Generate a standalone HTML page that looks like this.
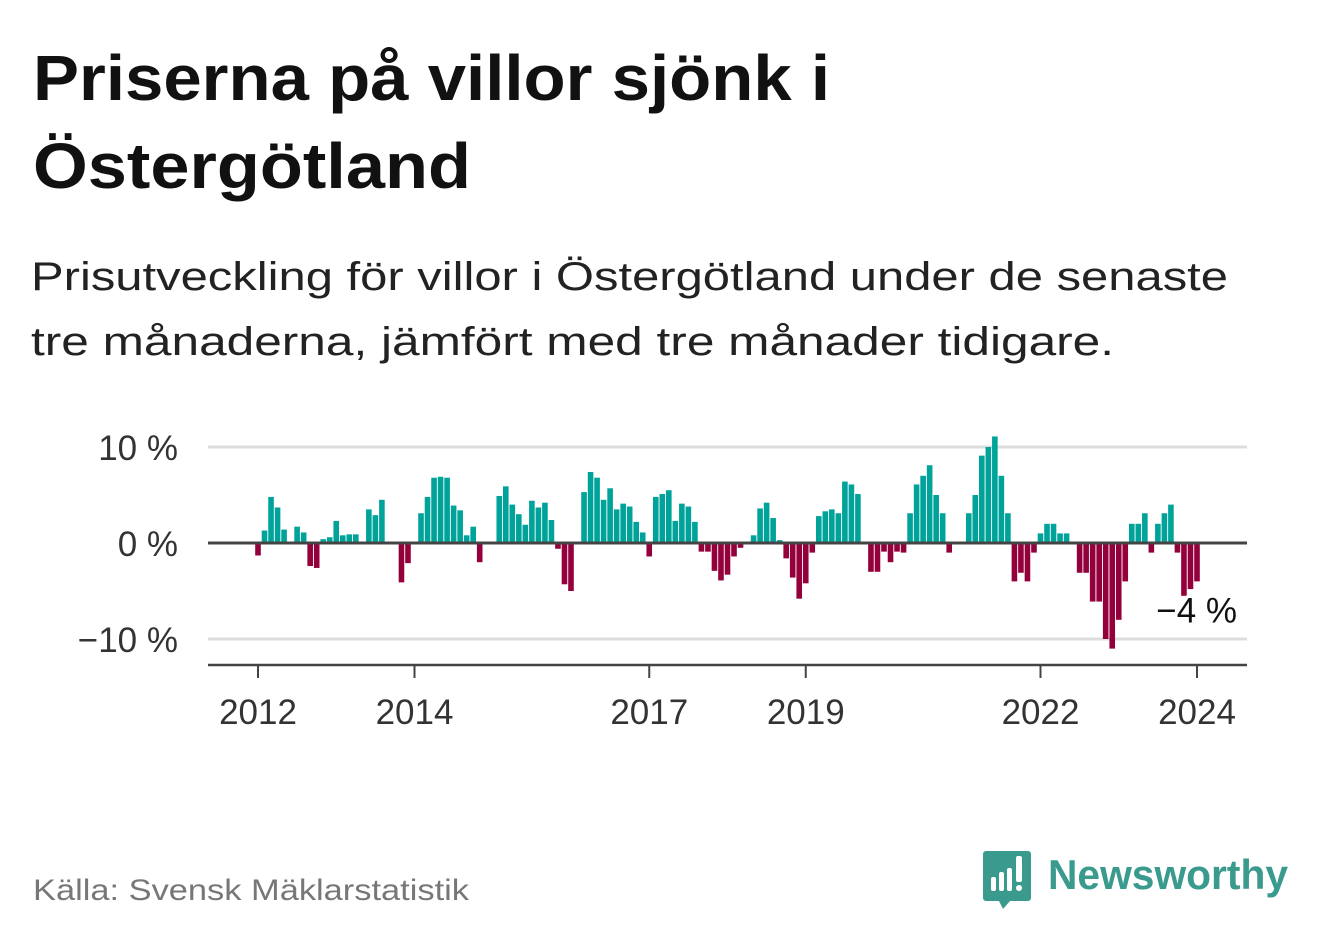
<!DOCTYPE html>
<html><head><meta charset="utf-8">
<style>
html,body{margin:0;padding:0;background:#fff;}
svg{display:block;font-family:"Liberation Sans",sans-serif;}
</style></head>
<body>
<svg width="1322" height="939" viewBox="0 0 1322 939" xmlns="http://www.w3.org/2000/svg">
  <text x="33" y="100" font-size="64" font-weight="bold" fill="#111" textLength="797" lengthAdjust="spacingAndGlyphs">Priserna på villor sjönk i</text>
  <text x="33" y="188" font-size="64" font-weight="bold" fill="#111" textLength="438" lengthAdjust="spacingAndGlyphs">Östergötland</text>
  <text x="31" y="290" font-size="40" fill="#222" textLength="1197" lengthAdjust="spacingAndGlyphs">Prisutveckling för villor i Östergötland under de senaste</text>
  <text x="31" y="355" font-size="40" fill="#222" textLength="1083" lengthAdjust="spacingAndGlyphs">tre månaderna, jämfört med tre månader tidigare.</text>
  <g id="plot"></g>
  <text x="33" y="900" font-size="30" fill="#777" textLength="436" lengthAdjust="spacingAndGlyphs">Källa: Svensk Mäklarstatistik</text>
  <g>
    <path d="M986 851 h42 a3 3 0 0 1 3 3 v44 a3 3 0 0 1 -3 3 h-18 l-7 8 l-4 -8 h-13 a3 3 0 0 1 -3 -3 v-44 a3 3 0 0 1 3 -3z" fill="#3a9a8e"/>
    <rect x="991" y="877" width="5" height="14" rx="2" fill="#fff"/>
    <rect x="999" y="872" width="5" height="19" rx="2" fill="#fff"/>
    <rect x="1007" y="868" width="5" height="23" rx="2" fill="#fff"/>
    <rect x="1016" y="856" width="6" height="26" rx="2" fill="#fff"/>
    <circle cx="1019" cy="888" r="3" fill="#fff"/>
    <text x="1048" y="889" font-size="42" font-weight="bold" fill="#3a9a8e" textLength="240" lengthAdjust="spacingAndGlyphs">Newsworthy</text>
  </g>
</svg>
<script>
const values = [
 -1.3,1.3,4.8,3.7,1.4,0,1.7,1.1,-2.4,-2.6,0.4,0.6,
 2.3,0.8,0.9,0.9,0,3.5,2.9,4.5,0,0,-4.1,-2.1,
 0,3.1,4.8,6.8,6.9,6.8,3.9,3.4,0.8,1.7,-2.0,0,
 0,4.9,5.9,4.0,3.0,1.9,4.4,3.7,4.2,2.4,-0.6,-4.3,
 -5.0,0,5.3,7.4,6.8,4.5,5.7,3.5,4.1,3.8,2.2,1.1,
 -1.4,4.8,5.1,5.5,2.3,4.1,3.8,2.2,-0.9,-0.9,-2.9,-3.9,
 -3.3,-1.4,-0.5,0,0.8,3.6,4.2,2.6,0.3,-1.6,-3.6,-5.8,
 -4.2,-1.0,2.8,3.3,3.5,3.1,6.4,6.1,5.1,0,-3.0,-3.0,
 -0.9,-2.0,-0.9,-1.0,3.1,6.1,7.0,8.1,5.0,3.1,-1.0,0,
 0,3.1,5.0,9.1,10.0,11.1,7.0,3.1,-4.0,-3.1,-4.0,-1.0,
 1.0,2.0,2.0,1.0,1.0,0,-3.1,-3.1,-6.1,-6.1,-10.0,-11.0,
 -8.0,-4.0,2.0,2.0,3.1,-1.0,2.0,3.1,4.0,-1.0,-5.5,-4.8,
 -4.0
];
const startYear = 2012;
const yTicks = [10, 0, -10];
const yTickLabels = ["10 %", "0 %", "\u221210 %"];
const xTickYears = [2012, 2014, 2017, 2019, 2022, 2024];
const lastLabel = "\u22124 %";

const NS = "http://www.w3.org/2000/svg";
const plot = document.getElementById("plot");
const x0 = 258, monthW = 78.25/12, left = 208, right = 1247;
const xScale = m => x0 + m * monthW;
const yScale = v => 543 - v * 9.6;
function mk(tag, attrs){ const e = document.createElementNS(NS, tag); for (const k in attrs) e.setAttribute(k, attrs[k]); plot.appendChild(e); return e; }

yTicks.forEach((t, i) => {
  if (t !== 0) {
    const g = mk("line", {x1:left, x2:right, y1:yScale(t), y2:yScale(t), stroke:"#ddd", "stroke-width":3});
    
    
  }
  const lb = mk("text", {x:178, y:yScale(t)+13, "text-anchor":"end", "font-size":35, fill:"#333"});
  lb.textContent = yTickLabels[i];
  
  
});

values.forEach((v, i) => {
  if (v === 0) return;
  const cx = xScale(i), w = 5.6;
  const y = v > 0 ? yScale(v) : yScale(0);
  const h = Math.abs(yScale(v) - yScale(0));
  const r = mk("rect", {x:cx - w/2, y:y, width:w, height:h, fill: v > 0 ? "#00a39a" : "#93003b"});
  
  
});

const zl = mk("line", {x1:left, x2:right, y1:yScale(0), y2:yScale(0), stroke:"#444", "stroke-width":3});



const ax = mk("line", {x1:left, x2:right, y1:665, y2:665, stroke:"#444", "stroke-width":2.5});



xTickYears.forEach(yr => {
  const x = xScale((yr - startYear) * 12);
  const t = mk("line", {x1:x, x2:x, y1:665, y2:678, stroke:"#444", "stroke-width":2});
  
  
  const lb = mk("text", {x:x, y:724, "text-anchor":"middle", "font-size":35, fill:"#333"});
  lb.textContent = yr;
  
  
});

const li = values.length - 1;
const ann = mk("text", {x:xScale(li) + 40, y:yScale(values[li]) + 41, "text-anchor":"end", "font-size":35, fill:"#111", stroke:"#fff", "stroke-width":6, "paint-order":"stroke"});
ann.textContent = lastLabel;


</script>
</body></html>
